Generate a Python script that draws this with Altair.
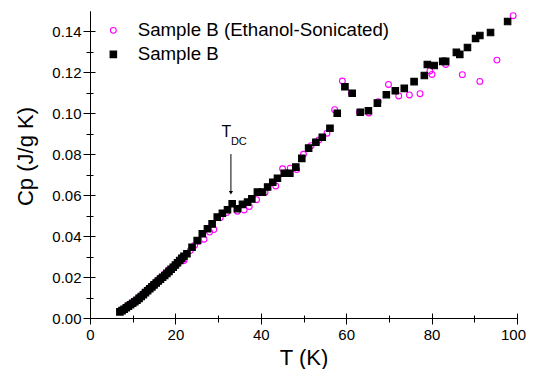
import altair as alt
import pandas as pd

# Sample B (filled squares)
T_B = [7.0, 7.5, 8.0, 8.5, 9.0, 9.5, 10.0, 10.5, 11.0, 11.5, 12.0, 12.5, 13.0, 13.5,
       14.0, 14.5, 15.0, 15.5, 16.0, 16.5, 17.0, 17.5, 18.0, 18.5, 19.0, 19.5, 20.0,
       20.5, 21.0, 21.5, 22.0, 22.7, 23.9, 25.1, 26.3, 27.5, 28.6, 29.8, 31.0, 32.2,
       33.3, 34.5, 35.7, 36.9, 37.9, 39.2, 40.4, 41.6, 42.8, 43.9, 45.5, 46.8, 48.2,
       49.6, 51.2, 52.9, 54.4, 56.2, 57.9, 59.7, 61.4, 63.3, 65.2, 67.3, 69.4, 71.5,
       73.6, 75.9, 78.3, 79.0, 80.6, 82.6, 83.3, 85.8, 86.6, 88.4, 90.3, 91.3, 93.8, 97.8]
Cp_B = [0.0030, 0.0036, 0.0043, 0.0050, 0.0058, 0.0065, 0.0072, 0.0079, 0.0087, 0.0096,
        0.0105, 0.0114, 0.0124, 0.0133, 0.0143, 0.0152, 0.0162, 0.0171, 0.0181, 0.0190,
        0.0199, 0.0208, 0.0218, 0.0228, 0.0238, 0.0248, 0.0259, 0.0270, 0.0281, 0.0292,
        0.0302, 0.0314, 0.0346, 0.0379, 0.0412, 0.0436, 0.0460, 0.0493, 0.0512, 0.0529,
        0.0558, 0.0534, 0.0555, 0.0566, 0.0582, 0.0615, 0.0615, 0.0640, 0.0663, 0.0683,
        0.0707, 0.0707, 0.0737, 0.0780, 0.0830, 0.0859, 0.0883, 0.0927, 0.1000, 0.1130,
        0.1098, 0.1005, 0.1013, 0.1050, 0.1091, 0.1110, 0.1122, 0.1155, 0.1185, 0.1239,
        0.1234, 0.1254, 0.1254, 0.1298, 0.1288, 0.1322, 0.1366, 0.1380, 0.1395, 0.1449]

# Sample B (Ethanol-Sonicated) (open circles)
T_E = [7.5, 8.5, 9.5, 10.5, 11.5, 12.5, 13.5, 14.5, 15.5, 16.5, 17.5, 18.5, 19.5, 20.5,
       21.5, 22.0, 23.5, 24.5, 25.5, 26.7, 28.0, 29.0, 30.5, 32.0, 34.5, 36.1, 37.3,
       39.0, 41.0, 43.5, 45.1, 46.9, 48.4, 50.0, 51.8, 53.6, 55.5, 57.3, 59.1, 61.2,
       63.1, 65.3, 67.5, 69.9, 72.3, 74.8, 77.3, 79.6, 80.1, 83.3, 87.2, 91.3, 95.3, 99.1]
Cp_E = [0.0040, 0.0055, 0.0070, 0.0085, 0.0101, 0.0120, 0.0140, 0.0158, 0.0177, 0.0196,
        0.0215, 0.0236, 0.0252, 0.0265, 0.0283, 0.0281, 0.0330, 0.0355, 0.0375, 0.0385,
        0.0420, 0.0432, 0.0490, 0.0515, 0.0522, 0.0528, 0.0545, 0.0578, 0.0615, 0.0645,
        0.0729, 0.0732, 0.0725, 0.0800, 0.0842, 0.0870, 0.0903, 0.1018, 0.1158, 0.1098,
        0.1005, 0.1002, 0.1057, 0.1141, 0.1085, 0.1090, 0.1096, 0.1207, 0.1190, 0.1239,
        0.1189, 0.1156, 0.1260, 0.1477]

LBL_E = "Sample B (Ethanol-Sonicated)"
LBL_B = "Sample B"
SERIES = [LBL_E, LBL_B]

X_TICKS = list(range(0, 101, 10))
Y_TICKS = [round(i * 0.01, 2) for i in range(0, 15)]

# annotation
ANN_T = 33.0
ANN_TOP = 0.0801
ANN_TIP = 0.0612

FONT = "Liberation Sans"
W, H = 427, 307

df = pd.DataFrame({
    "T": T_E + T_B,
    "Cp": Cp_E + Cp_B,
    "series": [LBL_E] * len(T_E) + [LBL_B] * len(T_B),
})

xs = alt.Scale(domain=[0, 100], nice=False, zero=False)
ys = alt.Scale(domain=[0, 0.15], nice=False)

x_major = "datum.value % 20 == 0"
y_major = "round(datum.value * 100) % 2 == 0"

x_axis = alt.Axis(
    values=X_TICKS, title="T (K)", labelExpr=f"{x_major} ? datum.label : ''",
    tickSize={"condition": {"test": x_major, "value": 6}, "value": 4},
    labelOffset={"condition": {"test": "datum.value == 100", "value": -4}, "value": 0},
    labelFontSize=15, labelFont=FONT, labelPadding=3, labelFlush=False,
    titleFontSize=22, titleFont=FONT, titleFontWeight="normal",
    titleY=46, titleBaseline="alphabetic", grid=False,
    domainColor="black", tickColor="black", labelColor="black", titleColor="black",
)
y_axis = alt.Axis(
    values=Y_TICKS, title="Cp (J/g K)",
    labelExpr=f"{y_major} ? format(datum.value, '.2f') : ''",
    tickSize={"condition": {"test": y_major, "value": 7}, "value": 4},
    labelFontSize=15, labelFont=FONT, labelPadding=2,
    titleFontSize=22, titleFont=FONT, titleFontWeight="normal",
    titleX=-65, titleY=145, titleAngle=-90, titleBaseline="middle", titleAlign="center",
    grid=False, labelFlush=False,
    domainColor="black", tickColor="black", labelColor="black", titleColor="black",
)

x_axis_top = alt.Axis(
    values=X_TICKS, title=None, labels=False, offset=-H, grid=False,
    tickSize={"condition": {"test": x_major, "value": 5}, "value": 3},
    domainColor="black", tickColor="black",
)
y_axis_right = alt.Axis(
    values=Y_TICKS, title=None, labels=False, offset=-W, grid=False,
    tickSize={"condition": {"test": y_major, "value": 5}, "value": 3},
    domainColor="black", tickColor="black",
)

leg = alt.Legend(title=None)
points = alt.Chart(df).mark_point(strokeWidth=1.1, opacity=1).encode(
    x=alt.X("T:Q", scale=xs, axis=x_axis),
    y=alt.Y("Cp:Q", scale=ys, axis=y_axis),
    shape=alt.Shape("series:N", scale=alt.Scale(domain=SERIES, range=["circle", "square"]),
                    legend=leg),
    stroke=alt.Stroke("series:N", scale=alt.Scale(domain=SERIES, range=["#FF00FF", "black"]),
                      legend=leg),
    fill=alt.Fill("series:N", scale=alt.Scale(domain=SERIES, range=["transparent", "black"]),
                  legend=leg),
    size=alt.Size("series:N", scale=alt.Scale(domain=SERIES, range=[34, 42]), legend=leg),
)

frame = alt.Chart(df).mark_point(opacity=0).encode(
    x=alt.X("T:Q", scale=xs, axis=x_axis_top),
    y=alt.Y("Cp:Q", scale=ys, axis=y_axis_right),
)

ann_df = pd.DataFrame({"T": [ANN_T], "top": [ANN_TOP], "tip": [ANN_TIP]})
rule = alt.Chart(ann_df).mark_rule(color="black", strokeWidth=1).encode(
    x=alt.X("T:Q", scale=xs, axis=None),
    y=alt.Y("top:Q", scale=ys, axis=None),
    y2="tip:Q",
)
head = alt.Chart(ann_df).mark_point(shape="triangle-down", filled=True, color="black",
                                    size=18, opacity=1).encode(
    x=alt.X("T:Q", scale=xs, axis=None),
    y=alt.Y("tip:Q", scale=ys, axis=None),
)

txt_df = pd.DataFrame({"T": [30.8, 33.0], "Cp": [0.0883, 0.0843], "label": ["T", "DC"]})
txt_T = alt.Chart(txt_df.iloc[[0]]).mark_text(align="left", baseline="alphabetic",
                                             fontSize=16, font=FONT, color="black").encode(
    x=alt.X("T:Q", scale=xs, axis=None),
    y=alt.Y("Cp:Q", scale=ys, axis=None),
    text="label:N",
)
txt_DC = alt.Chart(txt_df.iloc[[1]]).mark_text(align="left", baseline="alphabetic",
                                              fontSize=11, font=FONT, color="black").encode(
    x=alt.X("T:Q", scale=xs, axis=None),
    y=alt.Y("Cp:Q", scale=ys, axis=None),
    text="label:N",
)

chart = alt.layer(points, frame, rule, head, txt_T, txt_DC).resolve_scale(
    x="independent", y="independent"
).properties(
    width=W, height=H,
    padding={"left": 82, "top": 3, "right": 9, "bottom": 51},
    autosize=alt.AutoSizeParams(type="none"),
).configure_view(stroke=None).configure_legend(
    orient="none", legendX=14, legendY=10, padding=0,
    labelFontSize=18.7, labelFont=FONT, labelColor="black", labelLimit=0,
    symbolStrokeWidth=1.1, rowPadding=4, labelOffset=15,
)

chart.save("out.html", embed_options={"renderer": "svg", "actions": False})
